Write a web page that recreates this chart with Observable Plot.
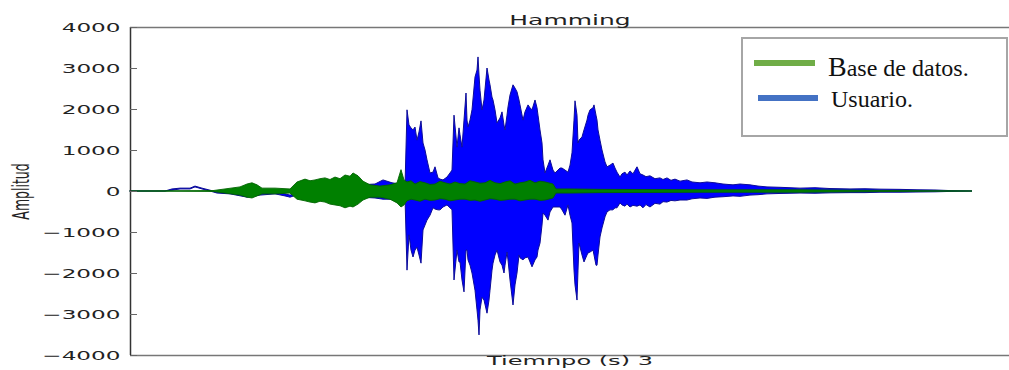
<!DOCTYPE html>
<html>
<head>
<meta charset="utf-8">
<script src="https://cdn.jsdelivr.net/npm/d3@7"></script>
<script src="https://cdn.jsdelivr.net/npm/@observablehq/plot@0.6"></script>
<style>
  body { margin: 0; background: #fff; }
  #wrap { position: relative; width: 1009px; height: 370px; overflow: hidden; }
  #legend { position: absolute; left: 741px; top: 37px; width: 263px; height: 96px;
            border: 2px solid #a6a6a6; background: #fff; }
  #legend svg { display: block; }
</style>
</head>
<body>
<div id="wrap">
  <div id="chart"></div>
  <div id="legend"></div>
</div>
<script>
// ---- data (time in s, amplitude) ----
const title = "Hamming";
const xLabel = "Tiemnpo (s) 3";
const yLabel = "Amplitud";
const seriesNames = ["Base de datos.", "Usuario."];
const yTicks = [-4000, -3000, -2000, -1000, 0, 1000, 2000, 3000, 4000];

// Usuario (blue) waveform envelope
const blueT  = [0, 0.35, 0.42, 0.50, 0.60, 0.65, 0.72, 0.80, 0.87, 1.00, 1.17, 1.30, 1.45, 1.55, 1.60, 1.70, 1.90, 2.10, 2.30, 2.45, 2.53, 2.62, 2.70, 2.75,
  2.77, 2.79, 2.81, 2.83, 2.85, 2.87, 2.89, 2.91, 2.93, 2.95, 2.97, 3.00, 3.03, 3.05, 3.08, 3.10, 3.13, 3.17, 3.20, 3.22,
  3.24, 3.27, 3.29, 3.30, 3.32, 3.34, 3.36, 3.37, 3.38, 3.40, 3.42, 3.45, 3.47, 3.48, 3.49, 3.50, 3.52, 3.54, 3.57, 3.59, 3.60,
  3.62, 3.63, 3.65, 3.67, 3.70, 3.72, 3.74, 3.75, 3.77, 3.78, 3.80, 3.83, 3.85, 3.87, 3.89, 3.90, 3.93, 3.95, 3.98, 4.00, 4.02,
  4.05, 4.07, 4.08, 4.10, 4.12, 4.13, 4.15, 4.18, 4.20, 4.23, 4.25, 4.30, 4.32, 4.35, 4.38, 4.40,
  4.42, 4.44, 4.45, 4.47, 4.48, 4.49, 4.52, 4.54, 4.57, 4.58, 4.60, 4.63, 4.64, 4.66, 4.67, 4.68, 4.70, 4.72, 4.75, 4.77,
  4.80, 4.83, 4.85, 4.87, 4.90, 4.92, 4.95, 4.97, 5.00, 5.03, 5.07, 5.10, 5.13, 5.16, 5.20, 5.25, 5.30, 5.33, 5.37, 5.41,
  5.45, 5.50, 5.57, 5.62, 5.70, 5.77, 5.85, 5.93, 6.03, 6.10, 6.20, 6.28, 6.37, 6.50, 6.70, 6.85, 7.00,
  7.20, 7.35, 7.50, 7.70, 7.87, 8.05, 8.20, 8.42];
const blueHi = [0, 0, 50, 70, 70, 120, 70, 20, -30, -50, -100, -70, -20, -70, -100, -30, 70, 120, 150, 170, 270, 200, 170, 120,
  1980, 1610, 1540, 1490, 1560, 1240, 1440, 1710, 1170, 1000, 760, 440, 460, 590, 320, 290, 270, 340, 440, 510,
  1850, 1070, 1540, 1370, 1070, 1730, 2390, 1730, 1560, 1730, 1980, 2780, 2950, 3270, 2830, 2460, 1980, 2220, 3000, 2710, 2590,
  2290, 2220, 1980, 1660, 1780, 1930, 1610, 1490, 1850, 2050, 2340, 2590, 2510, 2420, 2220, 2100, 1730, 1930, 2100, 2030, 1980,
  2220, 2030, 1850, 1490, 1170, 760, 440, 630, 760, 510, 440, 560, 560, 510, 460, 630,
  930, 1730, 2200, 1850, 1170, 1240, 1320, 1490, 1730, 1850, 1980, 2030, 2100, 1850, 1730, 1490, 1240, 1000, 710, 590,
  630, 680, 560, 460, 340, 420, 460, 390, 490, 420, 590, 420, 390, 350, 370, 300, 320, 280, 320, 260,
  290, 240, 270, 220, 200, 220, 200, 170, 150, 170, 150, 120, 100, 90, 70, 80, 60,
  50, 55, 45, 40, 30, 25, 10, 0];
const blueLo = [0, 0, 20, 50, 50, 100, 50, 0, -50, -70, -150, -100, -70, -120, -150, -70, -70, -120, -150, -170, -200, -200, -170, -150,
  -1930, -1070, -1440, -1610, -1440, -1370, -1560, -1760, -950, -830, -710, -590, -410, -440, -460, -460, -390, -340, -410, -460,
  -2170, -1440, -1730, -1730, -2170, -2460, -1440, -1440, -1680, -1810, -2000, -2420, -2900, -3150, -3510, -2900, -2590, -2660, -2980, -2660, -2420,
  -1930, -1760, -1560, -1440, -1730, -1810, -2000, -1810, -1490, -1680, -2170, -2780, -2290, -2000, -1560, -1630, -1680, -1630, -1610, -1730, -1850,
  -1680, -1610, -1440, -1270, -830, -540, -590, -710, -510, -390, -390, -390, -460, -590, -340, -590,
  -780, -1930, -2290, -2660, -1930, -1270, -1560, -1730, -1560, -1510, -1490, -1440, -1560, -1810, -1810, -1560, -1120, -900, -630, -510,
  -460, -460, -410, -410, -290, -340, -370, -320, -390, -350, -370, -340, -410, -330, -390, -300, -320, -260, -270, -230,
  -240, -220, -220, -190, -170, -180, -150, -140, -120, -130, -100, -90, -70, -60, -50, -55, -45,
  -40, -40, -30, -30, -25, -20, -10, 0];

// Base de datos (green) waveform envelope
const greenT  = [0, 0.83, 0.95, 1.10, 1.17, 1.22, 1.27, 1.32, 1.45, 1.60, 1.67, 1.75, 1.80, 1.85, 1.90, 1.95, 2.00, 2.05, 2.10, 2.15, 2.20, 2.23, 2.28, 2.33,
  2.40, 2.50, 2.60, 2.67, 2.71, 2.74, 2.77, 2.81, 2.85, 2.90, 2.95, 3.00, 3.05, 3.10, 3.15, 3.20, 3.25, 3.30, 3.35, 3.40, 3.45, 3.50, 3.55, 3.60, 3.65,
  3.70, 3.75, 3.80, 3.85, 3.90, 3.95, 4.00, 4.05, 4.10, 4.15, 4.20, 4.23, 4.26, 4.40, 4.70, 5.70, 6.70, 7.70, 8.42];
const greenHi = [0, 10, 50, 100, 170, 200, 150, 70, 70, 50, 220, 290, 250, 270, 300, 320, 280, 340, 300, 390, 360, 440, 370, 240,
  150, 120, 150, 200, 520, 270, 220, 250, 170, 230, 200, 160, 170, 240, 200, 170, 220, 180, 170, 250, 220, 190, 200, 260, 200,
  180, 220, 250, 170, 200, 220, 260, 200, 240, 220, 190, 170, 50, 50, 40, 30, 30, 10, 0];
const greenLo = [0, -10, -50, -100, -150, -170, -120, -70, -70, -50, -200, -240, -270, -290, -250, -270, -320, -340, -360, -410, -370, -390, -320, -220,
  -150, -150, -200, -290, -390, -340, -240, -200, -220, -250, -200, -230, -220, -190, -200, -240, -220, -200, -200, -230, -220, -250, -220, -190, -200,
  -230, -220, -200, -200, -240, -220, -200, -200, -230, -220, -190, -170, -50, -50, -40, -30, -30, -10, 0];

const blueColor = "#0000ff", greenColor = "#008000";
const legendColors = ["#70ad47", "#4472c4"];

const blue = blueT.map((t, i) => ({t, hi: blueHi[i], lo: blueLo[i]}));
const green = greenT.map((t, i) => ({t, hi: greenHi[i], lo: greenLo[i]}));

const fmt = d => d < 0 ? "\u2212" + Math.abs(d) : String(d);

const chart = Plot.plot({
  width: 1009,
  height: 370,
  marginLeft: 130,
  marginRight: 0,
  marginTop: 27,
  marginBottom: 15,
  style: {fontFamily: "DejaVu Sans", fontSize: "12.5px", background: "#fff", color: "#222"},
  x: {domain: [0, 8.79], axis: null},
  y: {domain: [-4000, 4000]},
  marks: [
    Plot.areaY(blue, {x: "t", y1: "lo", y2: "hi", fill: blueColor, stroke: "#0c0c98", strokeWidth: 1}),
    Plot.areaY(green, {x: "t", y1: "lo", y2: "hi", fill: greenColor, stroke: "#006400", strokeWidth: 0.9}),
    Plot.ruleY([-4000, 4000], {stroke: "#777", strokeWidth: 1.5}),
    Plot.ruleX([0], {stroke: "#333", strokeWidth: 1.5}),
    Plot.ruleY(yTicks, {x1: 0, x2: 0.07, stroke: "#666"}),
    Plot.axisY({ticks: yTicks, tickSize: 0, tickPadding: 10, tickFormat: fmt, label: null}),
    Plot.text([title], {frameAnchor: "top", dy: -12, text: d => d, fill: "#222", fontSize: 13.5}),
    Plot.text([xLabel], {frameAnchor: "bottom", dy: 9, text: d => d, fill: "#222", fontSize: 13}),
    Plot.text([yLabel], {frameAnchor: "left", dx: -109, rotate: -90, textAnchor: "middle", text: d => d, fill: "#222"})
  ]
});
document.getElementById("chart").appendChild(chart);

// horizontally stretched lettering, as in the reference picture
d3.select(chart).selectAll("text").each(function() {
  const el = d3.select(this);
  let tr = el.attr("transform");
  if (!tr) {
    const x = +(el.attr("x") || 0), y = +(el.attr("y") || 0);
    el.attr("x", null).attr("y", null);
    tr = `translate(${x},${y})`;
  }
  el.attr("transform", tr + (tr.includes("rotate") ? " scale(1,1.85)" : " scale(1.85,1)"));
});

// legend
const lg = d3.select("#legend").append("svg").attr("width", 263).attr("height", 96)
  .style("font-family", "'Liberation Serif', serif").style("fill", "#111");
lg.append("rect").attr("x", 11).attr("y", 21).attr("width", 61).attr("height", 6).attr("fill", legendColors[0]);
lg.append("rect").attr("x", 15).attr("y", 56).attr("width", 60).attr("height", 6).attr("fill", legendColors[1]);
const t1 = lg.append("text").attr("x", 85).attr("y", 37).style("font-size", "24px");
t1.append("tspan").style("font-size", "28px").text(seriesNames[0].slice(0, 1));
t1.append("tspan").text(seriesNames[0].slice(1));
lg.append("text").attr("x", 88).attr("y", 68).style("font-size", "24px").text(seriesNames[1]);
</script>
</body>
</html>
